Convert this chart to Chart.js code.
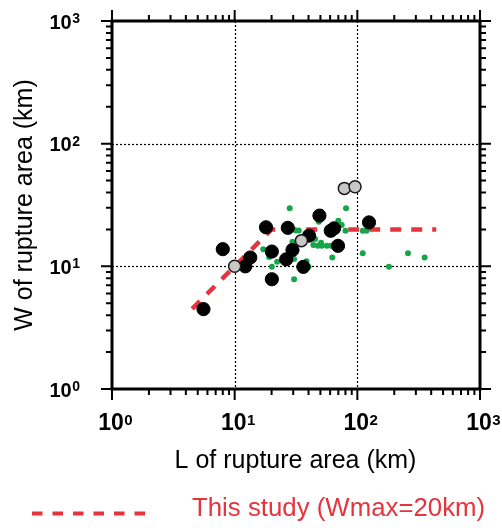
<!DOCTYPE html>
<html>
<head>
<meta charset="utf-8">
<script src="https://cdn.jsdelivr.net/npm/chart.js@4.4.1/dist/chart.umd.min.js"></script>
<style>
  html, body { margin: 0; padding: 0; background: #fff; }
  #wrap { width: 502px; height: 528px; }
</style>
</head>
<body>
<div id="wrap"><canvas id="chart"></canvas></div>
<script>
// rupture length L and width W (km)
const greenL = [17.1, 19.1, 20.1, 22.2, 28.1, 30.5, 31.5, 33.3, 30.3, 30.5, 29.6, 38.5, 40, 43.8, 45.3, 47.6,
                50.6, 51.3, 56.4, 61, 48.5, 50.6, 62.5, 70, 74.6, 80, 80.9, 110.7, 118.6, 110.7, 181, 258.8, 353.8];
const greenW = [13.8, 11.9, 9.9, 10.9, 29.7, 7.85, 19.6, 19.6, 12.9, 11.5, 15.9, 11.0, 9.9, 14.9, 16.7, 14.7,
                15.6, 14.7, 14.7, 14.7, 23.1, 27.9, 11.8, 23.5, 21.7, 19.5, 29.7, 19.5, 19.5, 12.8, 9.9, 12.8, 11.8];
const blackL = [5.57, 8.0, 12.2, 13.4, 18.0, 20.1, 20.1, 27.1, 26.3, 29.6, 36.3, 40.4, 49.1, 60.7, 64.6, 69.6, 124.5];
const blackW = [4.48, 13.8, 10, 11.8, 20.8, 13.2, 7.85, 20.6, 11.4, 13.6, 9.9, 17.8, 25.9, 19.5, 20.4, 14.7, 22.8];
const grayL = [10, 35, 78.4, 95.8];
const grayW = [10, 16.2, 43.2, 44.5];
// this study: W = L up to Wmax, then W = Wmax
const modelL = [4.5, 20, 440];
const modelW = [4.5, 20, 20];

const decades = [1, 10, 100, 1000];
const decadeExp = ['0', '1', '2', '3'];

const RED = '#e4343c';
const toPts = (xs, ys) => xs.map((x, i) => ({ x: x, y: ys[i] }));

// minor tick values 2..9 in every decade
const minors = [];
for (let d = 1; d < 1000; d *= 10) {
  for (let k = 2; k <= 9; k++) minors.push(k * d);
}

const frame = {
  id: 'frame',
  beforeDatasetsDraw(chart) {
    const ctx = chart.ctx, a = chart.chartArea;
    const xs = chart.scales.x, ys = chart.scales.y;
    ctx.save();
    ctx.strokeStyle = '#000';
    ctx.lineWidth = 1.2;
    ctx.setLineDash([2, 2]);
    [10, 100].forEach(v => {
      const px = Math.round(xs.getPixelForValue(v)) + 0.5;
      ctx.beginPath(); ctx.moveTo(px, a.top); ctx.lineTo(px, a.bottom); ctx.stroke();
      const py = Math.round(ys.getPixelForValue(v)) + 0.5;
      ctx.beginPath(); ctx.moveTo(a.left, py); ctx.lineTo(a.right, py); ctx.stroke();
    });
    ctx.restore();
  },
  afterDraw(chart) {
    const ctx = chart.ctx, a = chart.chartArea;
    const xs = chart.scales.x, ys = chart.scales.y;
    ctx.save();
    ctx.strokeStyle = '#000';
    ctx.lineCap = 'butt';

    // ticks, outward on all four sides
    ctx.lineWidth = 2;
    const tick = (v, len) => {
      const px = xs.getPixelForValue(v), py = ys.getPixelForValue(v);
      ctx.beginPath();
      ctx.moveTo(px, a.bottom); ctx.lineTo(px, a.bottom + len);
      ctx.moveTo(px, a.top); ctx.lineTo(px, a.top - len);
      ctx.moveTo(a.left, py); ctx.lineTo(a.left - len, py);
      ctx.moveTo(a.right, py); ctx.lineTo(a.right + len, py);
      ctx.stroke();
    };
    minors.forEach(v => tick(v, 6));
    decades.forEach(v => tick(v, 11));

    // frame
    ctx.lineWidth = 3;
    ctx.strokeRect(a.left, a.top, a.right - a.left, a.bottom - a.top);

    // tick labels 10^n
    ctx.fillStyle = '#000';
    ctx.textBaseline = 'alphabetic';
    decades.forEach((v, i) => {
      const px = xs.getPixelForValue(v);
      ctx.font = 'bold 23px "Liberation Sans", Arial, sans-serif';
      const w10 = ctx.measureText('10').width;
      const left = px - w10 / 2 - 1;
      ctx.textAlign = 'left';
      ctx.fillText('10', left, 430);
      ctx.font = 'bold 15px "Liberation Sans", Arial, sans-serif';
      ctx.fillText(decadeExp[i], left + w10 + 0.5, 424.5);

      const py = ys.getPixelForValue(v);
      ctx.font = 'bold 14px "Liberation Sans", Arial, sans-serif';
      const wSup = ctx.measureText(decadeExp[i]).width;
      ctx.textAlign = 'right';
      ctx.fillText(decadeExp[i], 80, py + 2);
      ctx.font = 'bold 20px "Liberation Sans", Arial, sans-serif';
      ctx.fillText('10', 80 - wSup - 0.5, py + 7.5);
    });

    // axis titles
    ctx.font = '25px "Liberation Sans", Arial, sans-serif';
    ctx.textAlign = 'center';
    ctx.fillText('L of rupture area (km)', 295.5, 467.5);
    ctx.save();
    ctx.translate(32, 205);
    ctx.rotate(-Math.PI / 2);
    ctx.fillText('W of rupture area (km)', 0, 0);
    ctx.restore();

    // legend
    ctx.strokeStyle = RED;
    ctx.lineWidth = 4;
    ctx.setLineDash([10.5, 10]);
    ctx.beginPath(); ctx.moveTo(32, 513.5); ctx.lineTo(146, 513.5); ctx.stroke();
    ctx.setLineDash([]);
    ctx.fillStyle = RED;
    ctx.font = '25.8px "Liberation Sans", Arial, sans-serif';
    ctx.textAlign = 'left';
    ctx.fillText('This study (Wmax=20km)', 192, 516);
    ctx.restore();
  }
};

new Chart(document.getElementById('chart'), {
  type: 'scatter',
  data: {
    datasets: [
      {
        label: 'gray',
        data: toPts(grayL, grayW),
        backgroundColor: '#c8c8c8',
        borderColor: '#1a1a1a',
        borderWidth: 1.5,
        pointRadius: 6,
        order: 0
      },
      {
        label: 'black',
        data: toPts(blackL, blackW),
        backgroundColor: '#000',
        borderColor: '#000',
        borderWidth: 1,
        pointRadius: 6.6,
        order: 1
      },
      {
        label: 'green',
        data: toPts(greenL, greenW),
        backgroundColor: '#17a44a',
        borderWidth: 0,
        pointRadius: 3,
        order: 2
      },
      {
        type: 'line',
        label: 'This study (Wmax=20km)',
        data: toPts(modelL, modelW),
        borderColor: RED,
        borderWidth: 4.5,
        borderDash: [11, 10],
        pointRadius: 0,
        fill: false,
        tension: 0,
        order: 3
      }
    ]
  },
  options: {
    responsive: true,
    maintainAspectRatio: false,
    animation: false,
    events: [],
    layout: { padding: { left: 112, right: 22, top: 21, bottom: 139 } },
    plugins: { legend: { display: false }, tooltip: { enabled: false } },
    scales: {
      x: {
        type: 'logarithmic', min: 1, max: 1000,
        ticks: { display: false },
        grid: { display: false },
        border: { display: false },
        afterFit: s => { s.height = 0; s.paddingLeft = 0; s.paddingRight = 0; }
      },
      y: {
        type: 'logarithmic', min: 1, max: 1000,
        ticks: { display: false },
        grid: { display: false },
        border: { display: false },
        afterFit: s => { s.width = 0; s.paddingTop = 0; s.paddingBottom = 0; }
      }
    }
  },
  plugins: [frame]
});
</script>
</body>
</html>
